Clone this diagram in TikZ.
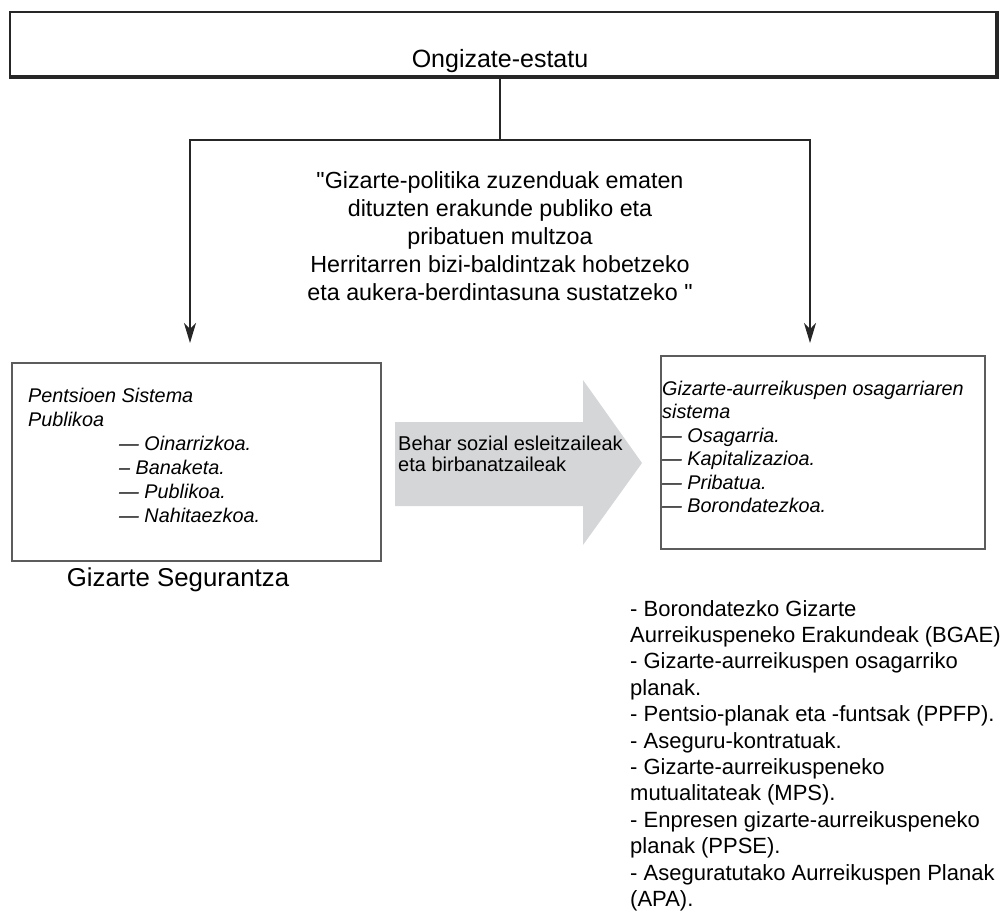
\documentclass[tikz,border=0pt]{standalone}
\usepackage{fontspec}
\setmainfont{Liberation Sans}[Ligatures=TeXOff]
\usetikzlibrary{arrows.meta,fit,positioning}
\definecolor{grisgezia}{HTML}{D5D6D8}
\definecolor{ertza}{HTML}{5C5C5C}
\newcommand{\tamaina}[2]{\fontsize{#1pt}{#2pt}\selectfont}
\begin{document}
\begin{tikzpicture}[x=1pt, y=-1pt,
    marra/.style = {line width=1.8pt, black!85},
    gezi/.style = {marra, -{Stealth[length=20pt, width=12pt, inset=6pt]}},
    kutxa/.style = {draw=ertza, line width=1.4pt, inner sep=0pt},
    testua/.style = {inner sep=0pt, anchor=base west, align=left}
    ]
    \useasboundingbox (0,0) rectangle (1000,911);

    \node [kutxa, draw=black!85, line width=2pt, fit={(10,12) (996,76)}] (estatu) {};
    \draw [line width=4pt, black!85] (estatu.north east) -- (estatu.south east) -- (estatu.south west);
    \node [inner sep=0pt, anchor=base, font=\tamaina{25}{30}] (estatutxt) at (500,67) {Ongizate-estatu};

    \draw [marra]
    (500,140) coordinate (banaketa)
    (190,343) coordinate (ezkerra)
    (810,343) coordinate (eskuina)
    (estatu.south -| banaketa) -- (banaketa);
    \draw [gezi] (banaketa) -| (ezkerra);
    \draw [gezi] (banaketa) -| (eskuina);

    % oinarria azken lerroan dago
    \node [inner sep=0pt, anchor=base, align=center, font=\tamaina{23.3}{27.8}] (definizioa) at (500,300)
    {"Gizarte-politika zuzenduak ematen\\
    dituzten erakunde publiko eta\\
    pribatuen multzoa\\
    Herritarren bizi-baldintzak hobetzeko\\
    eta aukera-berdintasuna sustatzeko "};

    \node [kutxa, fit={(12,363) (381,561)}] (publikoa) {};
    \node [testua, font=\tamaina{19.8}{24}\itshape] (publikoatxt) at (28,522)
    {Pentsioen Sistema\\
    Publikoa\\
    \hspace*{91pt}— Oinarrizkoa.\\
    \hspace*{91pt}– Banaketa.\\
    \hspace*{91pt}— Publikoa.\\
    \hspace*{91pt}— Nahitaezkoa.};
    \node [inner sep=0pt, anchor=base, font=\tamaina{25.8}{30}] (segurantza) at (178,586) {Gizarte Segurantza};

    \fill [grisgezia] (395,422) -- (583,422) -- (583,380) -- (642,463)
    -- (583,545) -- (583,506) -- (395,506) -- cycle;
    \node [testua, font=\tamaina{20}{21}] (gezia) at (398,471)
    {Behar sozial esleitzaileak\\eta birbanatzaileak};

    \node [kutxa, fit={(661,356) (985,549)}] (osagarria) {};
    \node [testua, font=\tamaina{19.8}{23.5}\itshape] (osagarriatxt) at (662,512.5)
    {Gizarte-aurreikuspen osagarriaren\\
    sistema\\
    — Osagarria.\\
    — Kapitalizazioa.\\
    — Pribatua.\\
    — Borondatezkoa.};

    \node [testua, font=\tamaina{22}{26.4}] (erakundeak) at (630,906.4)
    {- Borondatezko Gizarte\\
    Aurreikuspeneko Erakundeak (BGAE)\\
    - Gizarte-aurreikuspen osagarriko\\
    planak.\\
    - Pentsio-planak eta -funtsak (PPFP).\\
    - Aseguru-kontratuak.\\
    - Gizarte-aurreikuspeneko\\
    mutualitateak (MPS).\\
    - Enpresen gizarte-aurreikuspeneko\\
    planak (PPSE).\\
    - Aseguratutako Aurreikuspen Planak\\
    (APA).};
\end{tikzpicture}
\end{document}
